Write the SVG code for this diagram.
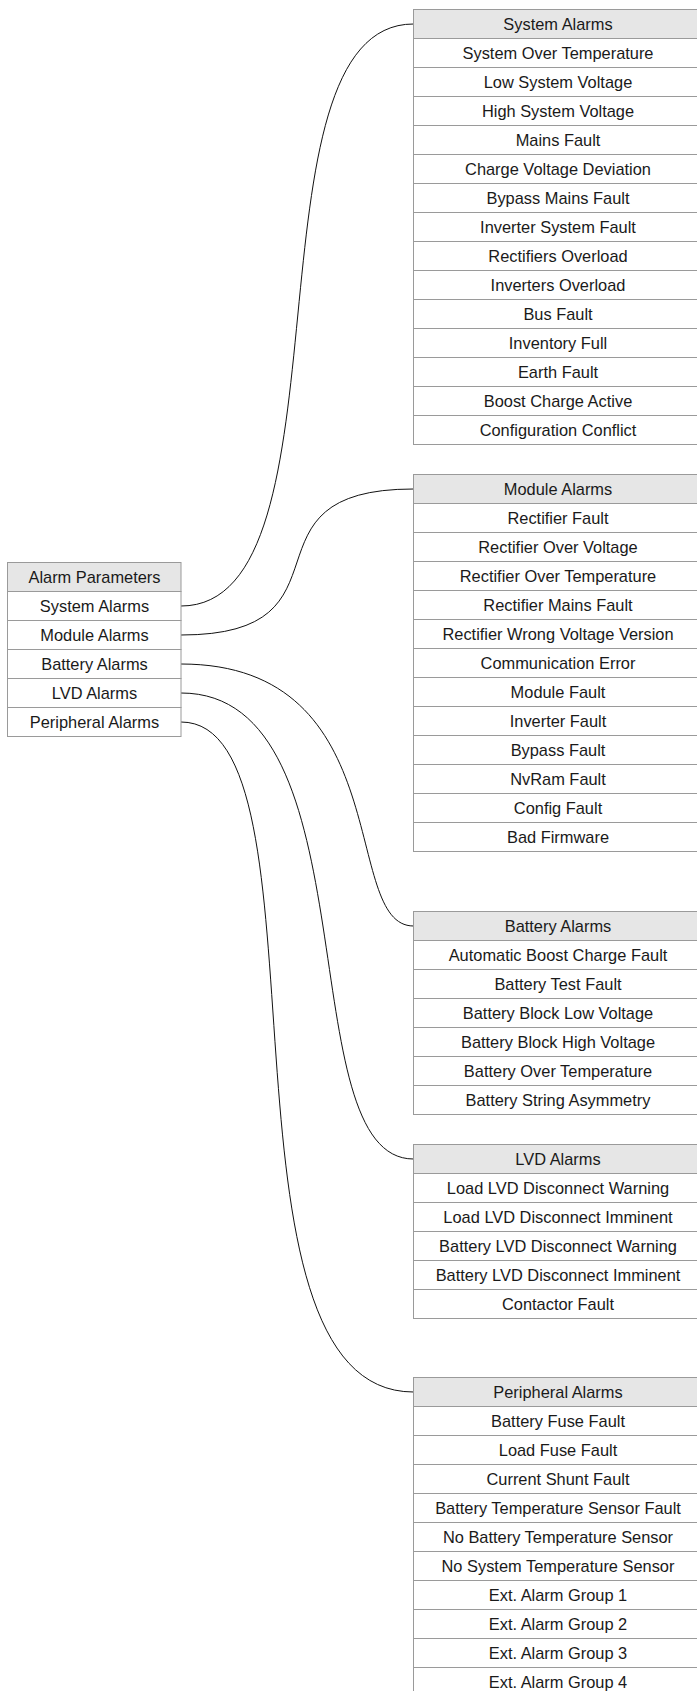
<svg xmlns="http://www.w3.org/2000/svg" width="697" height="1691" viewBox="0 0 697 1691">
<style>
.r{fill:#ffffff;stroke:#9a9a9a;stroke-width:1}
.h{fill:#e6e6e6;stroke:#9a9a9a;stroke-width:1}
text{font-family:"Liberation Sans",Arial,sans-serif;font-size:16.4px;fill:#1a1a1a;text-anchor:middle}
.c{fill:none;stroke:#111111;stroke-width:1}
</style>
<rect width="697" height="1691" fill="#ffffff"/>
<g id="connectors">
<path class="c" d="M181,606 C357,606 239,24 413.5,24"/>
<path class="c" d="M181,635 C364,635 230,489 413.5,489"/>
<path class="c" d="M181,664 C400,664 340,926 413.5,926"/>
<path class="c" d="M181,693 C375,693 288,1159 413.5,1159"/>
<path class="c" d="M181,722 C337,722 201,1392 413.5,1392"/>
</g>
<g id="alarm-parameters">
<rect class="h" x="7.5" y="562.5" width="173.5" height="29"/><text x="94.5" y="582.5">Alarm Parameters</text>
<rect class="r" x="7.5" y="591.5" width="173.5" height="29"/><text x="94.5" y="611.5">System Alarms</text>
<rect class="r" x="7.5" y="620.5" width="173.5" height="29"/><text x="94.5" y="640.5">Module Alarms</text>
<rect class="r" x="7.5" y="649.5" width="173.5" height="29"/><text x="94.5" y="669.5">Battery Alarms</text>
<rect class="r" x="7.5" y="678.5" width="173.5" height="29"/><text x="94.5" y="698.5">LVD Alarms</text>
<rect class="r" x="7.5" y="707.5" width="173.5" height="29"/><text x="94.5" y="727.5">Peripheral Alarms</text>
</g>
<g id="system-alarms">
<rect class="h" x="413.5" y="9.5" width="289" height="29"/><text x="558" y="29.5">System Alarms</text>
<rect class="r" x="413.5" y="38.5" width="289" height="29"/><text x="558" y="58.5">System Over Temperature</text>
<rect class="r" x="413.5" y="67.5" width="289" height="29"/><text x="558" y="87.5">Low System Voltage</text>
<rect class="r" x="413.5" y="96.5" width="289" height="29"/><text x="558" y="116.5">High System Voltage</text>
<rect class="r" x="413.5" y="125.5" width="289" height="29"/><text x="558" y="145.5">Mains Fault</text>
<rect class="r" x="413.5" y="154.5" width="289" height="29"/><text x="558" y="174.5">Charge Voltage Deviation</text>
<rect class="r" x="413.5" y="183.5" width="289" height="29"/><text x="558" y="203.5">Bypass Mains Fault</text>
<rect class="r" x="413.5" y="212.5" width="289" height="29"/><text x="558" y="232.5">Inverter System Fault</text>
<rect class="r" x="413.5" y="241.5" width="289" height="29"/><text x="558" y="261.5">Rectifiers Overload</text>
<rect class="r" x="413.5" y="270.5" width="289" height="29"/><text x="558" y="290.5">Inverters Overload</text>
<rect class="r" x="413.5" y="299.5" width="289" height="29"/><text x="558" y="319.5">Bus Fault</text>
<rect class="r" x="413.5" y="328.5" width="289" height="29"/><text x="558" y="348.5">Inventory Full</text>
<rect class="r" x="413.5" y="357.5" width="289" height="29"/><text x="558" y="377.5">Earth Fault</text>
<rect class="r" x="413.5" y="386.5" width="289" height="29"/><text x="558" y="406.5">Boost Charge Active</text>
<rect class="r" x="413.5" y="415.5" width="289" height="29"/><text x="558" y="435.5">Configuration Conflict</text>
</g>
<g id="module-alarms">
<rect class="h" x="413.5" y="474.5" width="289" height="29"/><text x="558" y="494.5">Module Alarms</text>
<rect class="r" x="413.5" y="503.5" width="289" height="29"/><text x="558" y="523.5">Rectifier Fault</text>
<rect class="r" x="413.5" y="532.5" width="289" height="29"/><text x="558" y="552.5">Rectifier Over Voltage</text>
<rect class="r" x="413.5" y="561.5" width="289" height="29"/><text x="558" y="581.5">Rectifier Over Temperature</text>
<rect class="r" x="413.5" y="590.5" width="289" height="29"/><text x="558" y="610.5">Rectifier Mains Fault</text>
<rect class="r" x="413.5" y="619.5" width="289" height="29"/><text x="558" y="639.5">Rectifier Wrong Voltage Version</text>
<rect class="r" x="413.5" y="648.5" width="289" height="29"/><text x="558" y="668.5">Communication Error</text>
<rect class="r" x="413.5" y="677.5" width="289" height="29"/><text x="558" y="697.5">Module Fault</text>
<rect class="r" x="413.5" y="706.5" width="289" height="29"/><text x="558" y="726.5">Inverter Fault</text>
<rect class="r" x="413.5" y="735.5" width="289" height="29"/><text x="558" y="755.5">Bypass Fault</text>
<rect class="r" x="413.5" y="764.5" width="289" height="29"/><text x="558" y="784.5">NvRam Fault</text>
<rect class="r" x="413.5" y="793.5" width="289" height="29"/><text x="558" y="813.5">Config Fault</text>
<rect class="r" x="413.5" y="822.5" width="289" height="29"/><text x="558" y="842.5">Bad Firmware</text>
</g>
<g id="battery-alarms">
<rect class="h" x="413.5" y="911.5" width="289" height="29"/><text x="558" y="931.5">Battery Alarms</text>
<rect class="r" x="413.5" y="940.5" width="289" height="29"/><text x="558" y="960.5">Automatic Boost Charge Fault</text>
<rect class="r" x="413.5" y="969.5" width="289" height="29"/><text x="558" y="989.5">Battery Test Fault</text>
<rect class="r" x="413.5" y="998.5" width="289" height="29"/><text x="558" y="1018.5">Battery Block Low Voltage</text>
<rect class="r" x="413.5" y="1027.5" width="289" height="29"/><text x="558" y="1047.5">Battery Block High Voltage</text>
<rect class="r" x="413.5" y="1056.5" width="289" height="29"/><text x="558" y="1076.5">Battery Over Temperature</text>
<rect class="r" x="413.5" y="1085.5" width="289" height="29"/><text x="558" y="1105.5">Battery String Asymmetry</text>
</g>
<g id="lvd-alarms">
<rect class="h" x="413.5" y="1144.5" width="289" height="29"/><text x="558" y="1164.5">LVD Alarms</text>
<rect class="r" x="413.5" y="1173.5" width="289" height="29"/><text x="558" y="1193.5">Load LVD Disconnect Warning</text>
<rect class="r" x="413.5" y="1202.5" width="289" height="29"/><text x="558" y="1222.5">Load LVD Disconnect Imminent</text>
<rect class="r" x="413.5" y="1231.5" width="289" height="29"/><text x="558" y="1251.5">Battery LVD Disconnect Warning</text>
<rect class="r" x="413.5" y="1260.5" width="289" height="29"/><text x="558" y="1280.5">Battery LVD Disconnect Imminent</text>
<rect class="r" x="413.5" y="1289.5" width="289" height="29"/><text x="558" y="1309.5">Contactor Fault</text>
</g>
<g id="peripheral-alarms">
<rect class="h" x="413.5" y="1377.5" width="289" height="29"/><text x="558" y="1397.5">Peripheral Alarms</text>
<rect class="r" x="413.5" y="1406.5" width="289" height="29"/><text x="558" y="1426.5">Battery Fuse Fault</text>
<rect class="r" x="413.5" y="1435.5" width="289" height="29"/><text x="558" y="1455.5">Load Fuse Fault</text>
<rect class="r" x="413.5" y="1464.5" width="289" height="29"/><text x="558" y="1484.5">Current Shunt Fault</text>
<rect class="r" x="413.5" y="1493.5" width="289" height="29"/><text x="558" y="1513.5">Battery Temperature Sensor Fault</text>
<rect class="r" x="413.5" y="1522.5" width="289" height="29"/><text x="558" y="1542.5">No Battery Temperature Sensor</text>
<rect class="r" x="413.5" y="1551.5" width="289" height="29"/><text x="558" y="1571.5">No System Temperature Sensor</text>
<rect class="r" x="413.5" y="1580.5" width="289" height="29"/><text x="558" y="1600.5">Ext. Alarm Group 1</text>
<rect class="r" x="413.5" y="1609.5" width="289" height="29"/><text x="558" y="1629.5">Ext. Alarm Group 2</text>
<rect class="r" x="413.5" y="1638.5" width="289" height="29"/><text x="558" y="1658.5">Ext. Alarm Group 3</text>
<rect class="r" x="413.5" y="1667.5" width="289" height="29"/><text x="558" y="1687.5">Ext. Alarm Group 4</text>
</g>
</svg>
